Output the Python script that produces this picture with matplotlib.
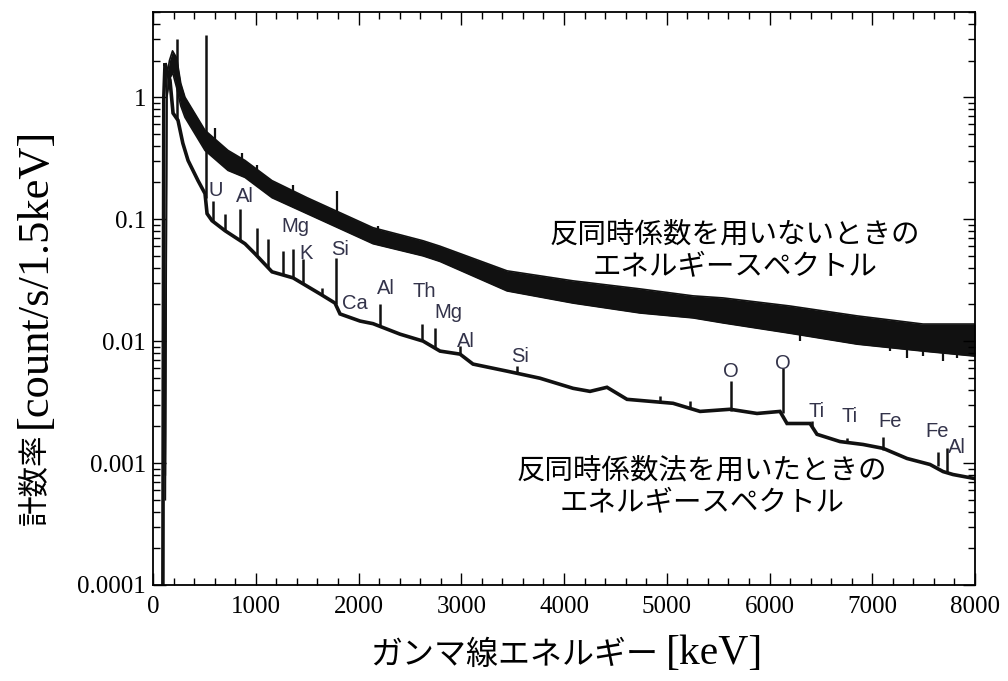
#!/usr/bin/env python3
"""
Gamma-ray spectrum with / without anti-coincidence (log scale)
"""

import matplotlib
matplotlib.use("Agg")
import matplotlib.pyplot as plt
from matplotlib.ticker import MultipleLocator, LogLocator, FixedFormatter, NullFormatter

# --- spectrum without anti-coincidence: noisy band (lower / upper edge) ---
upper_e = [120, 135, 160, 190, 230, 270, 311, 506, 730, 895, 1158, 1499, 2141, 2628,
           2793, 3445, 4088, 4740, 5255, 5547, 6199, 6852, 7494, 8000]
upper_lo = [0.0005, 1.0, 1.4, 1.6, 1.2, 0.85, 0.684, 0.366, 0.251, 0.220, 0.150, 0.111,
            0.0629, 0.050, 0.045, 0.0258, 0.0205, 0.0170, 0.0155, 0.0141, 0.0116,
            0.00944, 0.00828, 0.00753]
upper_hi = [0.0008, 1.5, 2.0, 2.4, 2.1, 1.3, 1.0, 0.535, 0.366, 0.303, 0.207, 0.150,
            0.0851, 0.0665, 0.060, 0.0377, 0.0312, 0.0268, 0.0235, 0.0226, 0.0194,
            0.0161, 0.0138, 0.0138]

# peaks sticking out of the upper band
upper_peak_e = [603, 701, 866, 1012, 1363, 1460, 1791, 2190]
upper_peak_base = [0.40, 0.30, 0.25, 0.20, 0.14, 0.13, 0.10, 0.075]
upper_peak_top = [0.556, 0.366, 0.346, 0.276, 0.189, 0.150, 0.17, 0.088]

# downward noise spikes on the right part of the band
noise_e = [6297, 7173, 7338, 7494, 7689, 7825]
noise_lo = [0.0100, 0.00828, 0.00725, 0.00753, 0.00686, 0.00725]
noise_top = [0.013, 0.011, 0.010, 0.010, 0.0095, 0.0095]

# --- spectrum with anti-coincidence ---
lower_e = [95, 105, 117, 140, 165, 195, 243, 290, 341, 438, 506, 526, 574, 701, 895,
           993, 1158, 1363, 1625, 1771, 1820, 2015, 2141, 2404, 2628, 2793, 2988, 3114,
           3445, 3766, 4088, 4253, 4418, 4613, 5061, 5324, 5616, 5878, 6102, 6170, 6394,
           6462, 6686, 6910, 7105, 7338, 7562, 7689, 7786, 8000]
lower_v = [0.00003, 1.0, 1.9, 1.6, 1.38, 0.74, 0.647, 0.42, 0.303, 0.207, 0.162, 0.111,
           0.0972, 0.0804, 0.0629, 0.052, 0.037, 0.033, 0.0244, 0.0205, 0.0167, 0.0146,
           0.0139, 0.0114, 0.0100, 0.00828, 0.00782, 0.00648, 0.00567, 0.00496, 0.0041,
           0.00387, 0.00418, 0.00333, 0.00309, 0.00265, 0.00276, 0.00255, 0.00265,
           0.00211, 0.00211, 0.00172, 0.0015, 0.00142, 0.00132, 0.00109, 0.000973,
           0.000851, 0.000805, 0.000745]

lower_peak_e = [233, 511, 584, 701, 847, 1012, 1119, 1265, 1363, 1460, 1645, 1781, 2209,
                2618, 2745, 2988, 3543, 4934, 5226, 5625, 6131, 6414, 6754, 7105, 7640, 7727]
lower_peak_base = [0.65, 0.15, 0.095, 0.080, 0.066, 0.051, 0.040, 0.035, 0.033, 0.030,
                   0.024, 0.020, 0.0135, 0.0100, 0.0090, 0.0078, 0.0055, 0.0031, 0.0028,
                   0.00265, 0.00255, 0.0020, 0.00148, 0.00128, 0.00095, 0.00085]
lower_peak_top = [3.0, 3.24, 0.142, 0.111, 0.122, 0.0851, 0.0691, 0.0551, 0.0572, 0.0473,
                  0.0273, 0.0482, 0.0202, 0.0138, 0.0128, 0.0091, 0.00623, 0.00353, 0.0032,
                  0.00469, 0.0060, 0.0022, 0.00159, 0.00165, 0.00124, 0.00132]

# --- element labels ---
elem_text = ["U", "Al", "Mg", "K", "Si", "Ca", "Al", "Th", "Mg", "Al", "Si",
             "O", "O", "Ti", "Ti", "Fe", "Fe", "Al"]
elem_e = [613, 895, 1382, 1489, 1820, 1966, 2268, 2637, 2871, 3046, 3572,
          5625, 6131, 6453, 6783, 7173, 7630, 7825]
elem_v = [0.172, 0.153, 0.0867, 0.052, 0.0561, 0.0205, 0.0268, 0.0253, 0.017, 0.0100,
          0.00753, 0.00567, 0.00659, 0.00265, 0.00241, 0.0022, 0.00182, 0.00134]

yticks = [1e-4, 1e-3, 1e-2, 1e-1, 1]
ytick_labels = ["0.0001", "0.001", "0.01", "0.1", "1"]

JP = ["Noto Sans CJK JP", "DejaVu Sans"]
SERIF = "Liberation Serif"


def plot_spectrum():
    fig = plt.figure(figsize=(10.08, 6.81), dpi=100)
    ax = fig.add_axes([0.1518, 0.141, 0.8155, 0.8414])
    ink = "#111111"

    # upper band
    ax.fill_between(upper_e, upper_lo, upper_hi, color=ink, linewidth=0)
    ax.plot(upper_e, upper_lo, color=ink, lw=1.2)
    ax.plot(upper_e, upper_hi, color=ink, lw=1.2)
    ax.vlines(upper_peak_e, upper_peak_base, upper_peak_top, color=ink, lw=1.6)
    ax.vlines(noise_e, noise_lo, noise_top, color=ink, lw=1.6)

    # lower spectrum
    ax.plot(lower_e, lower_v, color=ink, lw=2.6, solid_joinstyle="miter")
    ax.vlines(lower_peak_e, lower_peak_base, lower_peak_top, color=ink, lw=1.8)

    ax.set_yscale("log")
    ax.set_xlim(0, 8000)
    ax.set_ylim(1e-4, 5.0)

    ax.set_xticks(range(0, 8001, 1000))
    ax.xaxis.set_minor_locator(MultipleLocator(200))
    ax.set_yticks(yticks)
    ax.yaxis.set_major_formatter(FixedFormatter(ytick_labels))
    ax.yaxis.set_minor_locator(LogLocator(base=10, subs=range(2, 10)))
    ax.yaxis.set_minor_formatter(NullFormatter())

    ax.tick_params(which="both", direction="in", top=True, right=True, width=1.0)
    ax.tick_params(which="major", length=9)
    ax.tick_params(which="minor", length=5)
    ax.tick_params(axis="x", which="major", pad=8)
    ax.tick_params(axis="y", which="major", pad=5)
    for lab in ax.get_xticklabels() + ax.get_yticklabels():
        lab.set_family(SERIF)
        lab.set_fontsize(18)
    for sp in ax.spines.values():
        sp.set_linewidth(1.3)

    # axis labels: CJK part and serif unit part set separately
    fig.text(0.0347, 0.229, "計数率", rotation=90, ha="center", va="bottom",
             family=JP, fontsize=22)
    fig.text(0.0347, 0.372, "[count/s/1.5keV]", rotation=90, ha="center", va="bottom",
             family=SERIF, fontsize=32)
    fig.text(0.367, 0.038, "ガンマ線エネルギー", ha="left", va="center",
             family=JP, fontsize=23)
    fig.text(0.661, 0.040, "[keV]", ha="left", va="center",
             family=SERIF, fontsize=30)

    for t, e, v in zip(elem_text, elem_e, elem_v):
        ax.text(e, v, t, ha="center", va="center", fontsize=14.5,
                family="Liberation Sans", color="#33334a")

    ax.text(5660, 0.055, "反同時係数を用いないときの\nエネルギースペクトル",
            ha="center", va="center", fontsize=20.5, family=JP, linespacing=1.1)
    ax.text(5340, 0.00064, "反同時係数法を用いたときの\nエネルギースペクトル",
            ha="center", va="center", fontsize=20.5, family=JP, linespacing=1.1)

    fig.savefig("out.png", dpi=100)


if __name__ == "__main__":
    plot_spectrum()
